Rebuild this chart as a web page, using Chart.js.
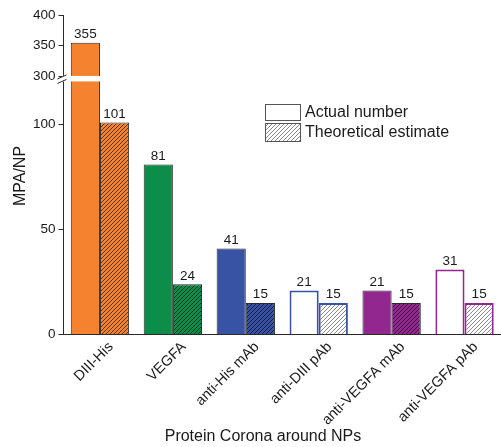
<!DOCTYPE html>
<html><head><meta charset="utf-8">
<script src="https://cdn.jsdelivr.net/npm/chart.js@4.4.0/dist/chart.umd.min.js"></script>
<style>html,body{margin:0;padding:0;background:#fff}#wrap{width:501px;height:447px;position:relative}</style>
</head><body><div id="wrap"><canvas id="c"></canvas></div>
<script>
// ---- data ----
const categories = ['DIII-His', 'VEGFA', 'anti-His mAb', 'anti-DIII pAb', 'anti-VEGFA mAb', 'anti-VEGFA pAb'];
const actualNumber = [355, 81, 41, 21, 21, 31];
const theoreticalEstimate = [101, 24, 15, 15, 15, 15];
const seriesNames = ['Actual number', 'Theoretical estimate'];
const lowerTicks = [0, 50, 100];
const upperTicks = [300, 350, 400];
const lowerMax = 123;
const upperMin = 300;
const upperMax = 400;
const yTitle = 'MPA/NP';
const xTitle = 'Protein Corona around NPs';

// ---- styles ----
const FONT = "'Liberation Sans', Arial, sans-serif";
const fillColors = ['#F5822F', '#0C8E4A', '#3953A4', '#FFFFFF', '#92278F', '#FFFFFF'];
const edgeColors = ['#2a2a2a', '#2a2a2a', '#2a2a2a', '#3953A4', '#2a2a2a', '#92278F'];
const edgeWidths = [1, 1, 1, 2, 1, 2];
const hatchLine = ['rgba(40,20,10,0.75)', 'rgba(0,30,10,0.75)', 'rgba(10,15,50,0.8)', '#8a8a8a', 'rgba(40,0,40,0.75)', '#8a8a8a'];

const canvas = document.getElementById('c');
const ctx0 = canvas.getContext('2d');
function hatch(bg, line) {
  const s = 4;
  const p = document.createElement('canvas');
  p.width = s; p.height = s;
  const g = p.getContext('2d');
  g.fillStyle = bg; g.fillRect(0, 0, s, s);
  g.strokeStyle = line; g.lineWidth = 1;
  g.beginPath();
  g.moveTo(-1, s + 1); g.lineTo(s + 1, -1);
  g.moveTo(-1, 1); g.lineTo(1, -1);
  g.moveTo(s - 1, s + 1); g.lineTo(s + 1, s - 1);
  g.stroke();
  return ctx0.createPattern(p, 'repeat');
}
const hatchFills = fillColors.map((c, i) => hatch(c, hatchLine[i]));
const legendHatch = hatch('#FFFFFF', '#8a8a8a');

const lowVal = arr => arr.map(v => Math.min(v, lowerMax));
const highVal = arr => arr.map(v => v > lowerMax ? [upperMin, v] : null);

const common = { borderColor: edgeColors, borderWidth: edgeWidths, categoryPercentage: 0.8, barPercentage: 1.0 };

const datasets = [
  Object.assign({ label: seriesNames[0], data: lowVal(actualNumber), backgroundColor: fillColors, yAxisID: 'yLow', stack: 'A' }, common),
  Object.assign({ label: seriesNames[1], data: lowVal(theoreticalEstimate), backgroundColor: hatchFills, yAxisID: 'yLow', stack: 'T' }, common),
  Object.assign({ label: seriesNames[0] + ' (upper)', data: highVal(actualNumber), backgroundColor: fillColors, yAxisID: 'yHigh', stack: 'A' }, common),
  Object.assign({ label: seriesNames[1] + ' (upper)', data: highVal(theoreticalEstimate), backgroundColor: hatchFills, yAxisID: 'yHigh', stack: 'T' }, common)
];

const decor = {
  id: 'decor',
  afterDraw(chart) {
    const ctx = chart.ctx;
    const ca = chart.chartArea;
    const yHigh = chart.scales.yHigh;
    const L = ca.left;
    const B = yHigh.bottom;
    ctx.save();
    // axis break band
    ctx.fillStyle = '#FFFFFF';
    ctx.fillRect(L - 1.5, B - 0.5, ca.right - L + 2, 5.5);
    ctx.strokeStyle = '#2a2a2a';
    ctx.lineWidth = 1;
    ctx.beginPath();
    ctx.moveTo(L - 6, B + 2.5); ctx.lineTo(L + 3, B - 1.5);
    ctx.moveTo(L - 6, B + 7); ctx.lineTo(L + 3, B + 3);
    ctx.stroke();

    // value labels
    ctx.fillStyle = '#1a1a1a';
    ctx.font = '13.5px ' + FONT;
    ctx.textAlign = 'center';
    ctx.textBaseline = 'bottom';
    const series = [actualNumber, theoreticalEstimate];
    series.forEach((vals, s) => {
      const lowMeta = chart.getDatasetMeta(s);
      const highMeta = chart.getDatasetMeta(s + 2);
      vals.forEach((v, i) => {
        const el = v > lowerMax ? highMeta.data[i] : lowMeta.data[i];
        if (!el) return;
        ctx.fillText(String(v), el.x, el.y - 1.5);
      });
    });

    // legend
    const lx = 265, ly = 104;
    ctx.lineWidth = 1;
    ctx.strokeStyle = '#555';
    ctx.fillStyle = '#FFFFFF';
    ctx.fillRect(lx, ly, 35, 16);
    ctx.strokeRect(lx + 0.5, ly + 0.5, 35, 16);
    ctx.fillStyle = legendHatch;
    ctx.fillRect(lx, ly + 19, 35, 18);
    ctx.strokeRect(lx + 0.5, ly + 19.5, 35, 18);
    ctx.fillStyle = '#1a1a1a';
    ctx.font = '16px ' + FONT;
    ctx.textAlign = 'left';
    ctx.textBaseline = 'middle';
    ctx.fillText(seriesNames[0], lx + 40, ly + 8.5);
    ctx.fillText(seriesNames[1], lx + 40, ly + 28.5);

    // x title
    ctx.textAlign = 'center';
    ctx.fillText(xTitle, 263, 437);

    // y title
    ctx.translate(21, 176);
    ctx.rotate(-Math.PI / 2);
    ctx.textAlign = 'center';
    ctx.textBaseline = 'middle';
    ctx.fillText(yTitle, 0, 0);
    ctx.restore();
  }
};

const yCommon = {
  position: 'left',
  stack: 'left',
  stacked: false,
  offset: false,
  grid: { drawOnChartArea: false, drawTicks: true, tickLength: 5, color: '#2a2a2a' },
  border: { display: true, color: '#2a2a2a', width: 1 },
  afterFit(scale) { scale.width = 63.5; }
};

new Chart(canvas, {
  type: 'bar',
  data: { labels: categories, datasets },
  options: {
    responsive: true,
    maintainAspectRatio: false,
    animation: false,
    layout: { padding: { top: 15, right: -2, left: 0, bottom: 0 } },
    plugins: { legend: { display: false }, tooltip: { enabled: false } },
    scales: {
      x: {
        grid: { display: false },
        border: { display: true, color: '#2a2a2a', width: 1 },
        ticks: { color: '#1a1a1a', font: { family: FONT, size: 14.5 }, minRotation: 45, maxRotation: 45, padding: -4, labelOffset: 11, autoSkip: false },
        title: { display: false },
        afterFit(scale) { scale.height = 112.5; }
      },
      yLow: Object.assign({}, yCommon, {
        stackWeight: 257.5,
        min: 0, max: lowerMax,
        afterBuildTicks(scale) { scale.ticks = lowerTicks.map(v => ({ value: v })); },
        ticks: { color: '#1a1a1a', font: { family: FONT, size: 13.5 }, padding: 3 }
      }),
      yHigh: Object.assign({}, yCommon, {
        stackWeight: 61.3,
        min: upperMin, max: upperMax,
        afterBuildTicks(scale) { scale.ticks = upperTicks.map(v => ({ value: v })); },
        ticks: { color: '#1a1a1a', font: { family: FONT, size: 13.5 }, padding: 3 }
      })
    }
  },
  plugins: [decor]
});
</script>
</body></html>
